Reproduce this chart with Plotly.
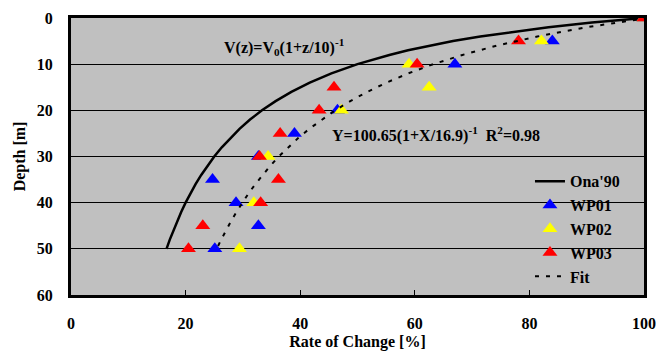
import plotly.graph_objects as go

# Ona'90 curve: V(z)=V0(1+z/10)^-1
ona_depth = [0, 1, 2, 3, 4, 5, 6, 7, 8, 9, 10, 12, 14, 16, 18, 20, 22, 24, 26, 28, 30,
             32, 34, 36, 38, 40, 42, 44, 46, 48, 50]
ona_rate = [100, 90.91, 83.33, 76.92, 71.43, 66.67, 62.5, 58.82, 55.56, 52.63, 50.0,
            45.45, 41.67, 38.46, 35.71, 33.33, 31.25, 29.41, 27.78, 26.32, 25.0,
            23.81, 22.73, 21.74, 20.83, 20.0, 19.23, 18.52, 17.86, 17.24, 16.67]

# Fit: Y=100.65(1+X/16.9)^-1
fit_depth = [0, 2, 4, 6, 8, 10, 12, 14, 16, 18, 20, 22, 24, 26, 28, 30, 32, 34, 36, 38,
             40, 42, 44, 46, 48, 50]
fit_rate = [100.65, 90.0, 81.39, 74.28, 68.31, 63.23, 58.86, 55.05, 51.70, 48.74, 46.10,
            43.73, 41.59, 39.65, 37.88, 36.27, 34.79, 33.42, 32.16, 30.98, 29.89, 28.88,
            27.93, 27.04, 26.21, 25.43]

wp01_rate = [100, 84.0, 67.0, 46.5, 39.0, 32.7, 24.7, 28.8, 32.7, 25.1]
wp01_depth = [0, 5, 10, 20, 25, 30, 35, 40, 45, 50]

wp02_rate = [100, 82.1, 59.0, 62.5, 47.2, 34.4, 31.9, 29.4]
wp02_depth = [0, 5, 10, 15, 20, 30, 40, 50]

wp03_rate = [100, 78.1, 60.4, 45.9, 43.3, 36.5, 32.9, 36.2, 33.1, 23.0, 20.5]
wp03_depth = [0, 5, 10, 15, 20, 25, 30, 35, 40, 45, 50]

x_ticks = [0, 20, 40, 60, 80, 100]
y_ticks = [0, 10, 20, 30, 40, 50, 60]

FONT = "Liberation Serif"

fig = go.Figure()
fig.add_trace(go.Scatter(x=ona_rate, y=ona_depth, mode="lines", name="Ona'90",
                         line=dict(color="black", width=2.5)))
fig.add_trace(go.Scatter(x=wp01_rate, y=wp01_depth, mode="markers", name="WP01",
                         marker=dict(symbol="triangle-up", size=13, color="#0000FF")))
fig.add_trace(go.Scatter(x=wp02_rate, y=wp02_depth, mode="markers", name="WP02",
                         marker=dict(symbol="triangle-up", size=13, color="#FFFF00")))
fig.add_trace(go.Scatter(x=wp03_rate, y=wp03_depth, mode="markers", name="WP03",
                         marker=dict(symbol="triangle-up", size=13, color="#FF0000")))
fig.add_trace(go.Scatter(x=fit_rate, y=fit_depth, mode="lines", name="Fit",
                         line=dict(color="black", width=2, dash="4px,7px")))

fig.add_annotation(x=37.3, y=6.3, xref="x", yref="y", showarrow=False,
                   text="V(z)=V<sub>0</sub>(1+z/10)<sup>-1</sup>",
                   font=dict(family=FONT, size=16, color="black", weight="bold"))
fig.add_annotation(x=63.7, y=25.3, xref="x", yref="y", showarrow=False,
                   text="Y=100.65(1+X/16.9)<sup>-1</sup>  R<sup>2</sup>=0.98",
                   font=dict(family=FONT, size=16, color="black", weight="bold"))

# The page body adds an 8px offset, so the figure is 8px smaller and margins adjusted
fig.update_layout(
    width=656, height=343,
    margin=dict(l=63, r=20, t=10, b=56, autoexpand=False),
    paper_bgcolor="white", plot_bgcolor="#C0C0C0",
    font=dict(family=FONT, size=16, color="black", weight="bold"),
    showlegend=True,
    legend=dict(x=0.801, y=0.472, xanchor="left", yanchor="top",
                bgcolor="rgba(0,0,0,0)", borderwidth=0,
                font=dict(family=FONT, size=16, color="black", weight="bold"),
                tracegroupgap=0, itemwidth=30),
)
fig.update_xaxes(range=[0, 100], tickvals=x_ticks, showgrid=False, zeroline=False,
                 automargin=False,
                 showline=True, linecolor="black", linewidth=3, mirror=True,
                 ticks="inside", ticklen=5, tickcolor="black", ticklabelstandoff=12,
                 title=dict(text="Rate of Change [%]", standoff=10,
                            font=dict(family=FONT, size=16, weight="bold")),
                 tickfont=dict(family=FONT, size=16, weight="bold"))
fig.update_yaxes(range=[60, 0], tickvals=y_ticks, showgrid=True, gridcolor="black",
                 gridwidth=1, zeroline=False, automargin=False,
                 showline=True, linecolor="black", linewidth=3, mirror=True,
                 ticks="inside", ticklen=4, tickcolor="black", ticklabelstandoff=12,
                 title=dict(text="Depth [m]", standoff=8,
                            font=dict(family=FONT, size=16, weight="bold")),
                 tickfont=dict(family=FONT, size=16, weight="bold"))

fig.write_html("out.html")
